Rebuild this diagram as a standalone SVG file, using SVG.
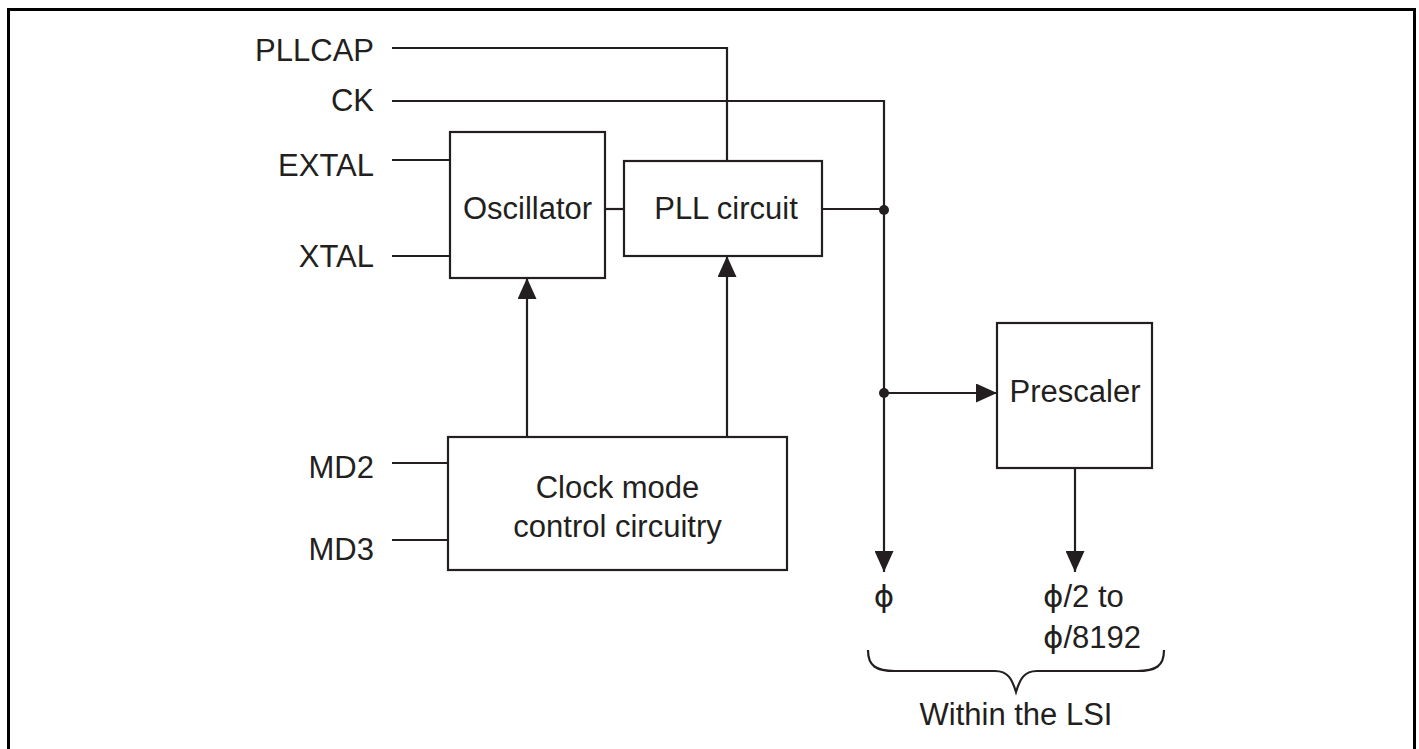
<svg xmlns="http://www.w3.org/2000/svg" width="1419" height="749" viewBox="0 0 1419 749">
<style>
.t{font-family:"Liberation Sans",Arial,sans-serif;font-size:31px;fill:#231f20}
.box{fill:none;stroke:#231f20;stroke-width:2.2}
.w{fill:none;stroke:#231f20;stroke-width:2.2}
.ph{font-family:"DejaVu Sans","Liberation Sans",sans-serif}
</style>
<defs>
<marker id="ah" markerUnits="userSpaceOnUse" markerWidth="21" markerHeight="19" refX="21" refY="9.5" orient="auto">
<path d="M0,0 L21,9.5 L0,19 Z" fill="#231f20"/>
</marker>
</defs>
<rect x="8.5" y="9.5" width="1406" height="760" fill="none" stroke="#000" stroke-width="3"/>
<g id="connectors">
<path class="w" d="M392,48 H727 V160"/>
<path class="w" d="M392,101 H884 V572" marker-end="url(#ah)"/>
<path class="w" d="M392,160 H450"/>
<path class="w" d="M392,256 H450"/>
<path class="w" d="M605,209 H624"/>
<path class="w" d="M822,209 H884"/>
<path class="w" d="M527,437 V278" marker-end="url(#ah)"/>
<path class="w" d="M727,437 V256" marker-end="url(#ah)"/>
<path class="w" d="M392,463 H448"/>
<path class="w" d="M392,540 H448"/>
<path class="w" d="M884,393 H997" marker-end="url(#ah)"/>
<path class="w" d="M1075,468 V572" marker-end="url(#ah)"/>
<circle cx="884" cy="210" r="5" fill="#231f20"/>
<circle cx="884" cy="393" r="5" fill="#231f20"/>
</g>
<g id="pins">
<text class="t" x="374" y="61" text-anchor="end">PLLCAP</text>
<text class="t" x="374" y="111" text-anchor="end">CK</text>
<text class="t" x="374" y="176" text-anchor="end">EXTAL</text>
<text class="t" x="374" y="267" text-anchor="end">XTAL</text>
<text class="t" x="374" y="478" text-anchor="end">MD2</text>
<text class="t" x="374" y="560" text-anchor="end">MD3</text>
</g>
<g id="oscillator">
<rect class="box" x="450" y="132" width="155" height="146"/>
<text class="t" x="527.5" y="219" text-anchor="middle">Oscillator</text>
</g>
<g id="pll">
<rect class="box" x="624" y="161" width="198" height="95"/>
<text class="t" x="726" y="219" text-anchor="middle">PLL circuit</text>
</g>
<g id="clockmode">
<rect class="box" x="448" y="437" width="339" height="133"/>
<text class="t" x="617.5" y="498" text-anchor="middle">Clock mode</text>
<text class="t" x="617.5" y="537" text-anchor="middle">control circuitry</text>
</g>
<g id="prescaler">
<rect class="box" x="997" y="323" width="155" height="145"/>
<text class="t" x="1075" y="402" text-anchor="middle">Prescaler</text>
</g>
<g id="outputs">
<text class="t" x="884" y="607" text-anchor="middle"><tspan class="ph">ϕ</tspan></text>
<text class="t" x="1043" y="607"><tspan class="ph">ϕ</tspan>/2 to</text>
<text class="t" x="1043" y="648"><tspan class="ph">ϕ</tspan>/8192</text>
<path class="w" d="M868,650 C868,666 876,671 895,671 L995,671 C1008,671 1012,679 1016,692 C1020,679 1024,671 1037,671 L1137,671 C1156,671 1164,666 1164,650"/>
<text class="t" x="1016" y="725" text-anchor="middle">Within the LSI</text>
</g>
</svg>
